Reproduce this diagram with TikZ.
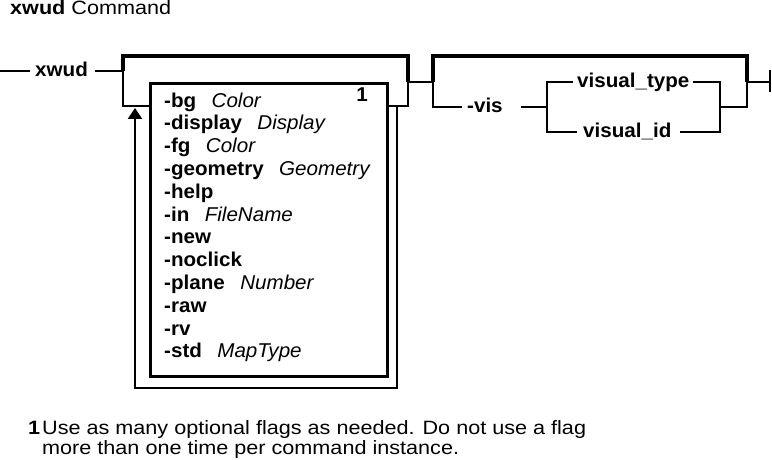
\documentclass[tikz,border=0pt]{standalone}
\usepackage{fontspec}
\setmainfont{Liberation Sans}[FakeStretch=1.03]
\newfontfamily\widefont{Liberation Sans}[FakeStretch=1.12]
\usetikzlibrary{arrows.meta}

\begin{document}
\fontsize{20}{23}\selectfont
\begin{tikzpicture}[x=1pt,y=-1pt,
  rail/.style={line width=2.4pt},
  default rail/.style={line width=4.6pt},
  kw/.style={font=\bfseries, inner sep=0pt},
  var/.style={font=\itshape, inner sep=0pt},
  note text/.style={anchor=base west, inner sep=0pt, font=\widefont\fontsize{19.3}{23}\selectfont}]
\useasboundingbox (0,0) rectangle (772,460);
\node[note text] (title) at (10,15) {\textbf{xwud} Command};

% command name
\coordinate (start) at (0,71);
\coordinate (grpL) at (123,71);
\node[kw, anchor=mid west] (xwud) at (35,71) {xwud};
\draw[rail] (start) -- ([xshift=-5pt]xwud.mid west);
\draw[rail] ([xshift=7pt]xwud.mid east) -- (grpL);

% repeated flags
\node[draw, line width=2.6pt, anchor=north west, minimum width=237pt,
  minimum height=293pt, inner sep=0pt] (flags) at (149,82) {};
\coordinate (grpR) at (408,82);
\coordinate (lowL) at (123,106);
\coordinate (lowR) at (408,106);
\coordinate (backR) at (397,106);
\coordinate (backL) at (135,108);
\draw[default rail] (grpL) |- (408,56) -- (grpR);
\draw[rail] (grpL) -- (lowL) -- (flags.west |- lowL);
\draw[rail] (flags.east |- lowR) -- (lowR) -- (grpR);
\draw[rail, -{Triangle[width=14pt,length=11pt]}] (backR) |- (135,388) -- (backL);
\node[kw, anchor=base east] (note) at (368,102) {1};
\foreach \flag/\arg [count=\i] in {bg/Color, display/Display, fg/Color,
  geometry/Geometry, help/, in/FileName, new/, noclick/, plane/Number,
  raw/, rv/, std/MapType} {
  \node[kw, anchor=base west] (f\i) at (164,{84.2+22.8*\i}) {-\flag};
  \node[var, anchor=base west] (a\i) at ([xshift=15pt]f\i.base east) {\arg};
}

% -vis option
\coordinate (optL) at (433,82);
\coordinate (optR) at (747,82);
\coordinate (choiceL) at (547,107);
\coordinate (choiceR) at (720,107);
\coordinate (topL) at (547,82);
\coordinate (topR) at (720,82);
\coordinate (botL) at (547,132);
\coordinate (botR) at (720,132);
\coordinate (stop) at (770,82);
\draw[rail] (grpR) -- (optL);
\draw[default rail] (optL) |- (747,56) -- (optR);
\node[kw, anchor=mid west] (vis) at (467,107) {-vis};
\draw[rail] (optL) |- ([xshift=-5pt]vis.mid west);
\draw[rail] ([xshift=18pt]vis.mid east) -- (choiceL);
\node[kw, anchor=mid west] (vtype) at (577,82) {visual\_type};
\node[kw, anchor=mid west] (vid) at (583,132) {visual\_id};
\draw[rail] ([xshift=-4pt]vtype.mid west) -- (topL) -- (botL) -- ([xshift=-6pt]vid.mid west);
\draw[rail] ([xshift=3pt]vtype.mid east) -- (topR) -- (botR) -- ([xshift=8pt]vid.mid east);
\draw[rail] (choiceR) -| (optR);
\draw[rail] (optR) -- (stop);
\draw[line width=2.6pt] ([yshift=-10pt]stop) -- ([yshift=12pt]stop);

% footnote
\node[note text, font=\widefont\bfseries\fontsize{19.3}{23}\selectfont] (fn) at (28,434) {1};
\node[note text] (fn1) at (42,434) {Use as many optional flags as needed. Do not use a flag};
\node[note text] (fn2) at (42,454) {more than one time per command instance.};
\end{tikzpicture}
\end{document}
